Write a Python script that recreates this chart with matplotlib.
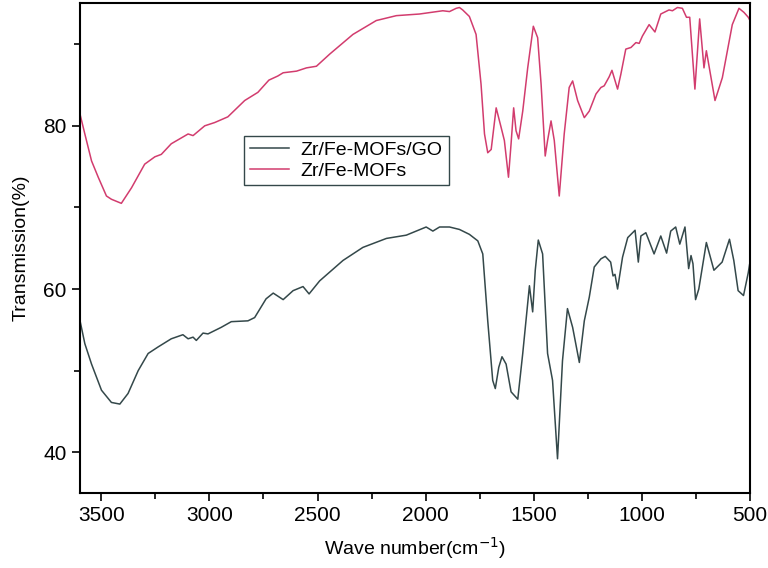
import matplotlib
matplotlib.use("Agg")
import matplotlib.pyplot as plt
from matplotlib.ticker import MultipleLocator

plt.rcParams['font.family'] = ['Liberation Sans', 'DejaVu Sans']

# Zr/Fe-MOFs/GO spectrum (wavenumber, transmission %)
go_wn = [3600, 3577, 3546, 3500, 3454, 3415, 3377, 3330, 3284, 3238, 3177, 3123, 3099, 3076,
         3061, 3030, 3007, 2946, 2899, 2822, 2791, 2738, 2705, 2659, 2613, 2567, 2539, 2490,
         2382, 2290, 2181, 2089, 1997, 1966, 1935, 1889, 1843, 1797, 1758, 1735, 1712, 1689,
         1677, 1661, 1646, 1627, 1604, 1573, 1550, 1519, 1504, 1492, 1478, 1458, 1435, 1412,
         1389, 1366, 1343, 1319, 1288, 1265, 1242, 1219, 1188, 1168, 1143, 1132, 1123, 1111,
         1088, 1064, 1030, 1015, 1003, 980, 942, 911, 884, 865, 842, 823, 799, 782, 771, 762,
         750, 735, 700, 665, 627, 593, 573, 553, 528, 506, 500]
go_t = [56.2, 53.3, 50.8, 47.6, 46.1, 45.9, 47.2, 50.0, 52.1, 52.9, 53.9, 54.4, 53.9, 54.1,
        53.7, 54.6, 54.5, 55.3, 56.0, 56.1, 56.5, 58.8, 59.5, 58.7, 59.8, 60.3, 59.4, 61.0,
        63.5, 65.1, 66.2, 66.6, 67.6, 67.1, 67.6, 67.6, 67.3, 66.7, 65.9, 64.3, 56.1, 48.8,
        47.8, 50.4, 51.7, 50.8, 47.4, 46.5, 52.1, 60.4, 57.2, 62.3, 66.0, 64.3, 52.1, 48.8,
        39.2, 51.2, 57.6, 55.3, 51.0, 56.1, 59.0, 62.7, 63.7, 64.0, 63.3, 61.6, 61.8, 60.0,
        63.9, 66.3, 67.2, 63.3, 66.5, 66.9, 64.3, 66.5, 64.4, 67.1, 67.6, 65.5, 67.6, 62.5, 64.1, 63.1,
        58.7, 60.0, 65.7, 62.3, 63.3, 66.1, 63.5, 59.8, 59.2, 62.0, 63.0]

# Zr/Fe-MOFs spectrum
mof_wn = [3600, 3577, 3546, 3515, 3477, 3454, 3408, 3361, 3300, 3253, 3223, 3177, 3099, 3076,
          3022, 2976, 2915, 2837, 2776, 2725, 2684, 2659, 2597, 2551, 2505, 2443, 2336, 2228,
          2135, 2028, 1920, 1889, 1858, 1843, 1828, 1797, 1766, 1743, 1727, 1712, 1696, 1673,
          1650, 1635, 1616, 1604, 1592, 1581, 1569, 1550, 1527, 1501, 1481, 1465, 1446, 1435,
          1419, 1404, 1381, 1358, 1335, 1319, 1296, 1265, 1242, 1211, 1188, 1173, 1150, 1137,
          1111, 1096, 1073, 1049, 1026, 1011, 996, 965, 938, 911, 873, 857, 834, 811, 792, 777,
          753, 731, 711, 700, 660, 626, 580, 549, 526, 506, 500]
mof_t = [81.5, 79.0, 75.7, 73.7, 71.4, 71.0, 70.5, 72.4, 75.3, 76.2, 76.5, 77.8, 79.0, 78.8,
         80.0, 80.4, 81.1, 83.1, 84.1, 85.6, 86.1, 86.5, 86.7, 87.1, 87.3, 88.8, 91.2, 92.9,
         93.5, 93.7, 94.1, 94.0, 94.4, 94.5, 94.2, 93.4, 91.2, 85.1, 79.0, 76.7, 77.1, 82.2,
         79.8, 78.2, 73.7, 77.8, 82.2, 79.4, 78.4, 81.8, 87.1, 92.2, 90.8, 85.1, 76.3, 78.2,
         80.6, 78.2, 71.4, 79.0, 84.7, 85.5, 83.1, 81.0, 81.8, 83.9, 84.7, 84.9, 86.0, 86.8,
         84.5, 86.3, 89.4, 89.6, 90.2, 90.1, 91.0, 92.4, 91.5, 93.7, 94.2, 94.1, 94.5, 94.4, 93.3, 93.3,
         84.5, 93.1, 87.1, 89.2, 83.1, 85.9, 92.4, 94.4, 93.9, 93.3, 93.0]

fig = plt.figure(figsize=(7.68, 5.68), dpi=100)
ax = fig.add_axes([0.104, 0.132, 0.872, 0.862])

ax.plot(go_wn, go_t, color='#34484a', lw=1.1, label='Zr/Fe-MOFs/GO')
ax.plot(mof_wn, mof_t, color='#d23c6e', lw=1.1, label='Zr/Fe-MOFs')

ax.set_xlim(3600, 500)
ax.set_ylim(35, 95)
ax.xaxis.set_major_locator(MultipleLocator(500))
ax.xaxis.set_minor_locator(MultipleLocator(250))
ax.yaxis.set_major_locator(MultipleLocator(20))
ax.yaxis.set_minor_locator(MultipleLocator(10))
ax.tick_params(which='major', direction='out', length=6, width=1.2, labelsize=15)
ax.tick_params(which='minor', direction='out', length=4, width=1.2)
for s in ax.spines.values():
    s.set_linewidth(1.5)

ax.set_xlabel('Wave number(cm$^{-1}$)', fontsize=14, labelpad=7)
ax.set_ylabel('Transmission(%)', fontsize=14, labelpad=10)

leg = ax.legend(loc='upper left', bbox_to_anchor=(0.231, 0.75), fontsize=14,
                fancybox=False, edgecolor='#34484a', framealpha=1,
                handlelength=2.0, borderpad=0.3, labelspacing=0.15, handletextpad=0.6)
leg.get_frame().set_linewidth(1.0)

fig.savefig('out.png', dpi=100)
